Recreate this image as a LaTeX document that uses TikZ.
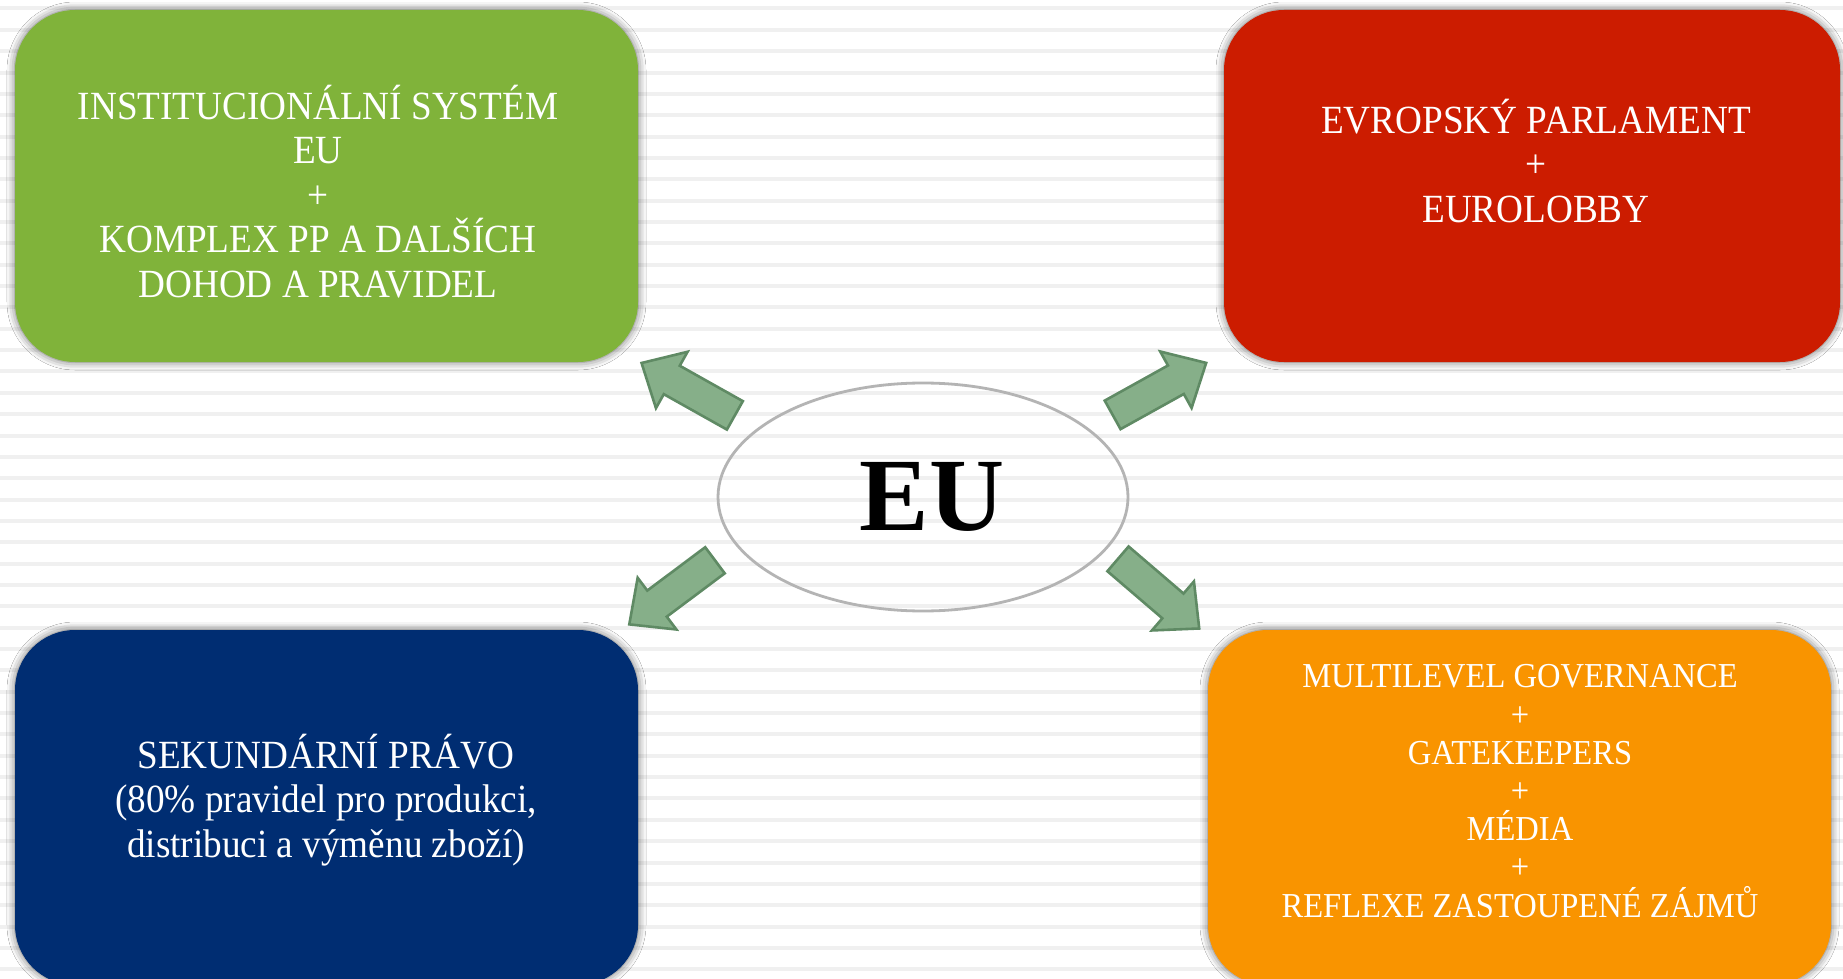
\documentclass[tikz,border=0pt]{standalone}
\usepackage{fontspec}
\setmainfont{Liberation Serif}[FakeStretch=0.93]
\newfontfamily\eufont{Liberation Serif}
\usetikzlibrary{positioning,shapes.geometric,shapes.arrows,shadows.blur}

\definecolor{instgreen}{HTML}{80B33A}
\definecolor{parlred}{HTML}{CC1C00}
\definecolor{sekblue}{HTML}{002D72}
\definecolor{multiorange}{HTML}{F99400}
\definecolor{arrowfill}{HTML}{86AF89}
\definecolor{arrowline}{HTML}{5F8A64}
\definecolor{stripegray}{HTML}{F0F0F0}
\definecolor{ringgray}{HTML}{B4B4B4}

\begin{document}
\begin{tikzpicture}[x=0.5pt, y=-0.5pt]
        \tikzstyle{box}=[rounded corners=30pt, minimum width=311.5pt, minimum height=176pt, inner sep=0pt,
            blur shadow={shadow xshift=0pt, shadow yshift=0pt, shadow blur radius=4pt, shadow opacity=60}]
        \tikzstyle{boxtext}=[anchor=base, align=center, text=white, font=\fontsize{20}{22.25}\selectfont]
        \tikzstyle{fatarrow}=[single arrow, draw=arrowline, fill=arrowfill, line width=1.3pt,
            minimum height=53.5pt, minimum width=0pt, inner sep=7.5pt, single arrow head extend=8pt,
            single arrow tip angle=86, anchor=tail]

        % striped background
        \useasboundingbox (0,0) rectangle (1843,979);
        \fill[white] (0,0) rectangle (1843,979);
        \foreach \i in {0,...,45}
            \fill[stripegray] (0,{6.5+21.35*\i}) rectangle (1843,{10.5+21.35*\i});

        % the four boxes
        \node[box, fill=instgreen]   (inst)  at (326.5,186) {};
        \node[box, fill=parlred, minimum width=308pt] (parl) at (1532,186) {};
        \node[box, fill=sekblue, minimum height=177.5pt]     (sek)   at (326.5,807.5) {};
        \node[box, fill=multiorange, minimum height=177.5pt] (multi) at (1519.5,807.5) {};

        % base = baseline of the last line
        \node[boxtext] (insttext)  at (318,297) {INSTITUCIONÁLNÍ SYSTÉM\\EU\\+\\KOMPLEX PP A DALŠÍCH\\DOHOD A PRAVIDEL};
        \node[boxtext] (parltext)  at (1536,222) {EVROPSKÝ PARLAMENT\\+\\EUROLOBBY};
        \node[boxtext] (sektext)   at (326,857) {SEKUNDÁRNÍ PRÁVO\\(80\% pravidel pro produkci,\\distribuci a výměnu zboží)};
        \node[boxtext, font=\fontsize{17.5}{19.1}\selectfont] (multitext) at (1520,917)
            {MULTILEVEL GOVERNANCE\\+\\GATEKEEPERS\\+\\MÉDIA\\+\\REFLEXE ZASTOUPENÉ ZÁJMŮ};

        % centre
        \node[ellipse, draw=ringgray, line width=1.4pt, minimum width=205pt, minimum height=114pt,
            font=\eufont\fontsize{52}{56}\selectfont\bfseries] (eu) at (923,497) {\hspace*{9pt}EU};

        % arrows
        \node[fatarrow, rotate=150.7] (arrinst)  at (736,416) {};
        \node[fatarrow, rotate=29.05] (arrparl)  at (1111.5,415.5) {};
        \node[fatarrow, rotate=216.8] (arrsek)   at (716,559.5) {};
        \node[fatarrow, rotate=-40.6] (arrmulti) at (1117,558) {};

\end{tikzpicture}
\end{document}
